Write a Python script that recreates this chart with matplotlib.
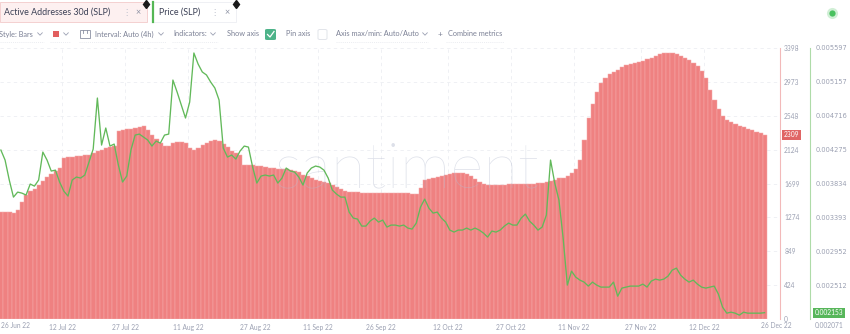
import pandas as pd
import matplotlib
matplotlib.use("Agg")
import matplotlib.pyplot as plt
from matplotlib.lines import Line2D
from matplotlib.patches import Rectangle, FancyBboxPatch
from matplotlib.transforms import offset_copy

W, H = 850, 334
UI_FONT = ["Lato", "DejaVu Sans"]

start = "2022-06-27"

# daily active addresses (30d), SLP
active_addresses = [
    1342, 1342, 1342, 1329, 1367, 1467, 1555, 1605, 1630, 1680,
    1731, 1781, 1818, 1856, 1894, 2019, 2031, 2031, 2044, 2044,
    2057, 2057, 2082, 2107, 2119, 2144, 2157, 2169, 2358, 2370,
    2383, 2383, 2395, 2408, 2420, 2370, 2307, 2257, 2207, 2169,
    2169, 2207, 2220, 2220, 2207, 2144, 2119, 2144, 2182, 2207,
    2232, 2245, 2232, 2195, 2157, 2107, 2082, 2057, 1931, 1931,
    1931, 1919, 1919, 1906, 1894, 1894, 1881, 1881, 1881, 1868,
    1856, 1843, 1806, 1793, 1768, 1743, 1731, 1718, 1705, 1680,
    1655, 1630, 1605, 1593, 1593, 1593, 1580, 1580, 1580, 1580,
    1580, 1580, 1580, 1580, 1580, 1580, 1580, 1580, 1567, 1567,
    1643, 1743, 1756, 1768, 1781, 1793, 1806, 1818, 1831, 1831,
    1831, 1818, 1793, 1756, 1718, 1693, 1680, 1680, 1680, 1680,
    1680, 1693, 1693, 1693, 1693, 1693, 1693, 1693, 1705, 1705,
    1718, 1731, 1743, 1768, 1768, 1793, 1831, 1881, 1994, 2245,
    2521, 2696, 2847, 2959, 3022, 3072, 3097, 3122, 3160, 3185,
    3198, 3210, 3223, 3235, 3260, 3273, 3298, 3323, 3336, 3336,
    3336, 3323, 3298, 3273, 3248, 3210, 3173, 3110, 3022, 2872,
    2746, 2633, 2546, 2495, 2470, 2445, 2420, 2408, 2383, 2370,
    2345, 2332, 2309,
]

# daily SLP price, USD
price = [
    0.004269, 0.004139, 0.003879, 0.003657, 0.003722, 0.003709, 0.003684, 0.003827, 0.003800, 0.003879,
    0.004243, 0.004139, 0.003996, 0.004008, 0.003853, 0.003735, 0.003670, 0.003879, 0.003918, 0.003905,
    0.003944, 0.004113, 0.004282, 0.004946, 0.004334, 0.004556, 0.004321, 0.004347, 0.004074, 0.003853,
    0.003931, 0.004269, 0.004464, 0.004477, 0.004438, 0.004399, 0.004321, 0.004386, 0.004360, 0.004464,
    0.004477, 0.005180, 0.005024, 0.004855, 0.004686, 0.004894, 0.005532, 0.005389, 0.005285, 0.005246,
    0.005154, 0.005076, 0.004920, 0.004295, 0.004178, 0.004204, 0.004152, 0.004256, 0.004321, 0.004308,
    0.004048, 0.003840, 0.003931, 0.003944, 0.003931, 0.003944, 0.003840, 0.003905, 0.004035, 0.003996,
    0.003983, 0.003918, 0.003814, 0.003970, 0.004035, 0.004061, 0.004048, 0.004008, 0.003905, 0.003748,
    0.003696, 0.003657, 0.003657, 0.003462, 0.003384, 0.003371, 0.003280, 0.003280, 0.003345, 0.003384,
    0.003332, 0.003358, 0.003267, 0.003293, 0.003293, 0.003280, 0.003293, 0.003254, 0.003241, 0.003319,
    0.003527, 0.003631, 0.003514, 0.003449, 0.003462, 0.003384, 0.003332, 0.003228, 0.003202, 0.003228,
    0.003228, 0.003254, 0.003228, 0.003254, 0.003228, 0.003189, 0.003137, 0.003215, 0.003202, 0.003228,
    0.003280, 0.003319, 0.003293, 0.003293, 0.003384, 0.003436, 0.003345, 0.003293, 0.003228, 0.003267,
    0.003423, 0.004139, 0.003840, 0.003618, 0.003124, 0.002512, 0.002694, 0.002616, 0.002577, 0.002551,
    0.002499, 0.002551, 0.002512, 0.002486, 0.002486, 0.002486, 0.002551, 0.002368, 0.002473, 0.002486,
    0.002499, 0.002499, 0.002499, 0.002525, 0.002486, 0.002564, 0.002590, 0.002577, 0.002590, 0.002629,
    0.002707, 0.002733, 0.002642, 0.002590, 0.002551, 0.002577, 0.002525, 0.002486, 0.002473, 0.002486,
    0.002499, 0.002395, 0.002225, 0.002147, 0.002160, 0.002147, 0.002121, 0.002160, 0.002147, 0.002147,
    0.002147, 0.002147, 0.002153,
]

addr_ticks = [0, 424, 849, 1274, 1699, 2124, 2548, 2973, 3398]
price_ticks = [0.002071, 0.002512, 0.002952, 0.003393, 0.003834,
               0.004275, 0.004716, 0.005157, 0.005597]
date_ticks = ["2022-07-12", "2022-07-27", "2022-08-11", "2022-08-27", "2022-09-11",
              "2022-09-26", "2022-10-12", "2022-10-27", "2022-11-11", "2022-11-27",
              "2022-12-12"]

BAR_RED = "#ef8181"
LINE_GREEN = "#62b95a"
TICK_GREY = "#9ba0b2"


def px(x, y):
    """pixel position (top-left origin) -> figure fraction"""
    return x / W, 1 - y / H


def ui_text(fig, x, y, s, size=5.3, color="#7b8095", **kw):
    fig.text(*px(x, y), s, fontsize=size, color=color, va="center",
             ha=kw.pop("ha", "left"), family=UI_FONT, **kw)


def ui_line(fig, xs, ys, color, lw=0.7, **kw):
    fx = [x / W for x in xs]
    fy = [1 - y / H for y in ys]
    fig.add_artist(Line2D(fx, fy, color=color, lw=lw, transform=fig.transFigure, **kw))


def ui_box(fig, x0, y0, x1, y1, fc, ec, lw=0.6, rounded=False):
    if rounded:
        patch = FancyBboxPatch(px(x0, y1), (x1 - x0) / W, (y1 - y0) / H,
                               boxstyle="round,pad=0,rounding_size=0.003",
                               transform=fig.transFigure, fc=fc, ec=ec, lw=lw)
    else:
        patch = Rectangle(px(x0, y1), (x1 - x0) / W, (y1 - y0) / H,
                          transform=fig.transFigure, fc=fc, ec=ec, lw=lw)
    fig.add_artist(patch)


def chevron(fig, x, y):
    ui_line(fig, [x - 2.3, x, x + 2.3], [y - 1.2, y + 1.2, y - 1.2], "#9ba0b2", lw=0.6)


def draw_header(fig):
    # metric tabs
    ui_box(fig, 0, 2, 147, 22, "#fdf0f0", "#f3caca")
    ui_text(fig, 4, 12.5, "Active Addresses 30d (SLP)", size=6.4, color="#3c4156")
    ui_text(fig, 122, 12.5, "\u22ee", size=6, color="#b8bcc8")
    ui_text(fig, 135, 12.5, "\u00d7", size=6.4, color="#8b90a2")
    ui_box(fig, 152, 2, 236, 22, "white", "#eceef2")
    ui_line(fig, [153, 153], [2, 22], "#55b755", lw=1.6)
    ui_text(fig, 159, 12.5, "Price (SLP)", size=6.4, color="#3c4156")
    ui_text(fig, 210, 12.5, "\u22ee", size=6, color="#b8bcc8")
    ui_text(fig, 224, 12.5, "\u00d7", size=6.4, color="#8b90a2")
    for x in (146, 236):
        fig.add_artist(Line2D([x / W], [1 - 4 / H], marker="d", ms=4.5,
                              color="#1a1a1a", transform=fig.transFigure))

    # settings row
    y = 34
    ui_text(fig, -1, y, "Style: Bars")
    chevron(fig, 40, y)
    ui_box(fig, 53, 31, 59, 37, "#e25f5f", "#e25f5f", lw=0)
    chevron(fig, 66, y)
    ui_box(fig, 80, 30, 90, 38, "none", "#8b90a2", lw=0.6)
    ui_line(fig, [83, 83], [30, 33], "#8b90a2", lw=0.6)
    ui_line(fig, [87, 87], [30, 33], "#8b90a2", lw=0.6)
    ui_text(fig, 95, y, "Interval: Auto (4h)")
    chevron(fig, 161, y)
    ui_text(fig, 173, y, "Indicators:")
    chevron(fig, 213, y)
    ui_text(fig, 227, y, "Show axis")
    ui_box(fig, 265, 29, 276, 40, "#4db389", "#4db389", lw=0, rounded=True)
    ui_line(fig, [267.5, 270, 274], [34.5, 37, 31.5], "white", lw=0.9)
    ui_text(fig, 286, y, "Pin axis")
    ui_box(fig, 318, 29.5, 327, 39.5, "white", "#dde0e7", lw=0.6, rounded=True)
    ui_text(fig, 336, y, "Axis max/min: Auto/Auto")
    chevron(fig, 425, y)
    ui_text(fig, 438, y, "+", size=6)
    ui_text(fig, 448, y, "Combine metrics")
    for x0, x1 in [(0, 44), (50, 70), (79, 166), (172, 218), (336, 428), (446, 504)]:
        ui_line(fig, [x0, x1], [42, 42], "#e4e6ec", lw=0.5, ls=(0, (1.5, 1.5)))

    # live indicator dot
    fig.add_artist(Line2D([832 / W], [1 - 13 / H], marker="o", ms=8, alpha=0.25,
                          color="#49c15f", mec="none", transform=fig.transFigure))
    fig.add_artist(Line2D([832 / W], [1 - 13 / H], marker="o", ms=4.5,
                          color="#49c15f", mec="none", transform=fig.transFigure))


if __name__ == "__main__":
    days = pd.date_range(start, periods=len(active_addresses), freq="D")
    t0 = pd.Timestamp(start)

    fig = plt.figure(figsize=(W / 100, H / 100), dpi=100)
    ax = fig.add_axes([0, (H - 319) / H, 780 / W, 271 / H])
    ax2 = ax.twinx()

    ax.bar(days, active_addresses, width=1.0, align="edge", color=BAR_RED,
           edgecolor="#f6abab", linewidth=0.35, zorder=2)
    ax.set_ylim(0, addr_ticks[-1])
    ax.set_xlim(t0 + pd.Timedelta(hours=5), t0 + pd.Timedelta(days=186.1))

    ax.set_axisbelow(True)
    ax.grid(True, ls=(0, (4, 4)), color="#eceef2", lw=0.6)

    ax.yaxis.tick_right()
    ax.set_yticks(addr_ticks)
    ax.set_yticklabels([str(v) for v in addr_ticks])
    ax.set_xticks(pd.to_datetime(date_ticks))
    ax.set_xticklabels([pd.Timestamp(d).strftime("%-d %b %y") for d in date_ticks])
    ax.tick_params(axis="both", length=0, labelsize=4.8, labelcolor=TICK_GREY)
    ax.tick_params(axis="y", left=False, labelleft=False, right=False,
                   labelright=True, pad=3)
    ax.tick_params(axis="x", pad=3.5)
    for lab in ax.get_xticklabels() + ax.get_yticklabels():
        lab.set_family(UI_FONT)
    for side in ("left", "top", "bottom"):
        ax.spines[side].set_visible(False)
    ax.spines["right"].set_color("#f2b9b9")
    ax.spines["right"].set_linewidth(0.8)

    # watermark
    ax.text(0.522, 0.55, "santiment", transform=ax.transAxes, ha="center", va="center",
            fontsize=46, color="#b4bbcf", alpha=0.45, family="Lato", weight="light",
            zorder=3)

    ax2.plot(days + pd.Timedelta(hours=10), price, color=LINE_GREEN, lw=0.95, zorder=4)
    ax2.set_ylim(price_ticks[0], price_ticks[-1])
    ax2.set_yticks(price_ticks)
    ax2.set_yticklabels([""] + [f"{v:.6f}" for v in price_ticks[1:]])
    ax2.tick_params(axis="y", length=0, pad=4, labelsize=4.8, labelcolor=TICK_GREY)
    for lab in ax2.get_yticklabels():
        lab.set_family(UI_FONT)
    for side in ("left", "top", "bottom"):
        ax2.spines[side].set_visible(False)
    ax2.spines["right"].set_position(("outward", 30 * 72 / 100))
    ax2.spines["right"].set_color("#aedba8")
    ax2.spines["right"].set_linewidth(0.8)

    # bottom price tick, nudged below the current-value badge
    lowest = offset_copy(ax2.get_yaxis_transform(), fig=fig, x=35, y=-6, units="dots")
    ax2.text(1, price_ticks[0], f"{price_ticks[0]:.6f}", transform=lowest, ha="left",
             va="center", fontsize=4.8, color=TICK_GREY, family=UI_FONT)

    # current value badges
    red_tr = offset_copy(ax.get_yaxis_transform(), fig=fig, x=4, units="dots")
    ax.text(1, active_addresses[-1], str(active_addresses[-1]), transform=red_tr,
            ha="left", va="center", fontsize=4.8, color="white", family=UI_FONT,
            bbox=dict(boxstyle="square,pad=0.25", fc="#e06565", ec="none"), clip_on=False)
    green_tr = offset_copy(ax2.get_yaxis_transform(), fig=fig, x=35, units="dots")
    ax2.text(1, price[-1], f"{price[-1]:.6f}", transform=green_tr,
             ha="left", va="center", fontsize=4.8, color="white", family=UI_FONT,
             bbox=dict(boxstyle="square,pad=0.25", fc="#57b65a", ec="none"), clip_on=False)

    # edge date labels kept inside the canvas
    ui_text(fig, 1, 326, "26 Jun 22", size=4.8, color=TICK_GREY)
    ui_text(fig, 776, 326, "26 Dec 22", size=4.8, color=TICK_GREY, ha="center")

    draw_header(fig)
    fig.savefig("out.png", dpi=100, facecolor="white")
